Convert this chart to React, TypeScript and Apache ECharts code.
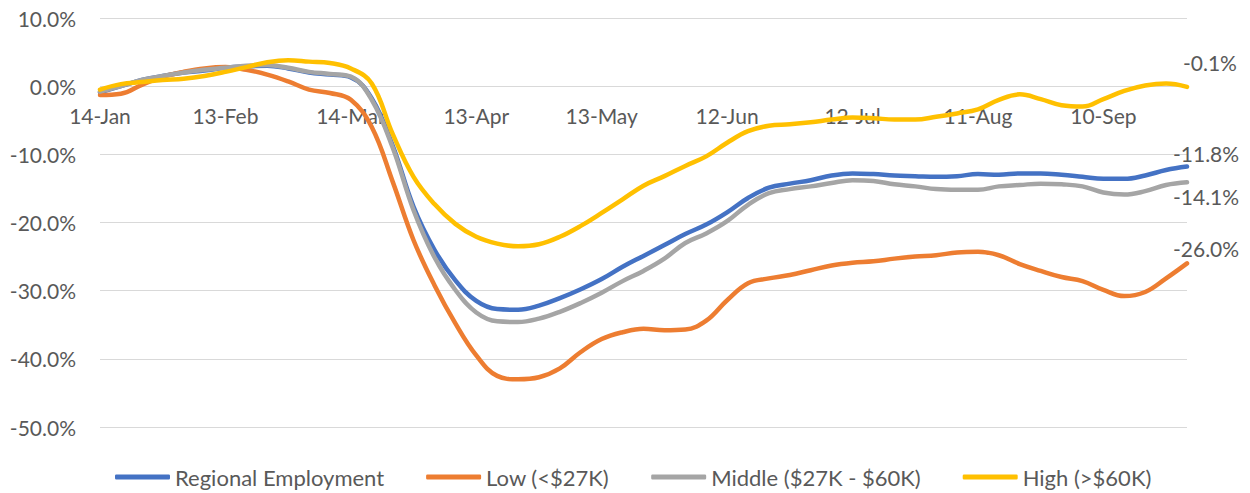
import React, { useEffect, useRef } from "react";
import * as echarts from "echarts";

// Dates sampled every 5 days, 14-Jan to 30-Sep (2020)
const categories = [
  "14-Jan", "19-Jan", "24-Jan", "29-Jan", "3-Feb", "8-Feb", "13-Feb", "18-Feb", "23-Feb", "28-Feb",
  "4-Mar", "9-Mar", "14-Mar", "19-Mar", "24-Mar", "29-Mar", "3-Apr", "8-Apr", "13-Apr", "18-Apr",
  "23-Apr", "28-Apr", "3-May", "8-May", "13-May", "18-May", "23-May", "28-May", "2-Jun", "7-Jun",
  "12-Jun", "17-Jun", "22-Jun", "27-Jun", "2-Jul", "7-Jul", "12-Jul", "17-Jul", "22-Jul", "27-Jul",
  "1-Aug", "6-Aug", "11-Aug", "16-Aug", "21-Aug", "26-Aug", "31-Aug", "5-Sep", "10-Sep", "15-Sep",
  "20-Sep", "25-Sep", "30-Sep",
];

const seriesNames = ["Regional Employment", "Low (<$27K)", "Middle ($27K - $60K)", "High (>$60K)"];

const regional = [
  -0.9, 0.0, 0.9, 1.5, 2.0, 2.3, 2.7, 2.9, 3.0, 2.6,
  2.0, 1.7, 1.3, -1.8, -8.7, -17.7, -24.0, -28.5, -31.5, -32.7,
  -32.8, -32.2, -31.1, -29.8, -28.3, -26.5, -24.9, -23.3, -21.7, -20.3,
  -18.5, -16.4, -14.9, -14.3, -13.8, -13.1, -12.8, -12.9, -13.1, -13.2,
  -13.3, -13.2, -12.9, -13.0, -12.8, -12.8, -13.0, -13.3, -13.6, -13.6,
  -13.1, -12.3, -11.8,
];
const low = [
  -1.3, -1.1, 0.2, 1.4, 2.1, 2.6, 2.8, 2.4, 1.7, 0.7,
  -0.5, -1.0, -2.0, -6.0, -14.0, -22.6, -29.2, -34.8, -39.5, -42.5,
  -43.0, -42.7, -41.4, -39.0, -37.1, -36.1, -35.6, -35.8, -35.7, -34.4,
  -31.4, -28.9, -28.2, -27.7, -27.0, -26.3, -25.9, -25.7, -25.3, -25.0,
  -24.8, -24.4, -24.3, -24.8, -26.1, -27.1, -28.0, -28.6, -29.9, -30.8,
  -30.2, -28.2, -26.0,
];
const middle = [
  -0.8, 0.0, 0.9, 1.5, 2.0, 2.4, 2.7, 3.0, 3.1, 2.7,
  2.1, 1.8, 1.4, -2.0, -9.0, -18.2, -25.1, -29.9, -33.2, -34.5,
  -34.6, -34.1, -33.1, -31.8, -30.3, -28.6, -27.1, -25.3, -23.0, -21.6,
  -19.8, -17.4, -15.7, -15.1, -14.7, -14.2, -13.8, -13.9, -14.4, -14.7,
  -15.1, -15.2, -15.2, -14.7, -14.5, -14.3, -14.4, -14.7, -15.6, -15.9,
  -15.4, -14.5, -14.1,
];
const high = [
  -0.5, 0.3, 0.6, 0.9, 1.1, 1.5, 2.1, 2.8, 3.5, 3.8,
  3.6, 3.4, 2.6, 0.4, -7.0, -13.3, -17.3, -20.2, -22.1, -23.1,
  -23.5, -23.2, -22.1, -20.5, -18.6, -16.6, -14.6, -13.2, -11.7, -10.3,
  -8.3, -6.6, -5.8, -5.6, -5.3, -4.9, -4.6, -4.7, -4.9, -4.9,
  -4.5, -4.0, -3.4, -2.0, -1.2, -1.9, -2.8, -3.0, -1.9, -0.7,
  0.1, 0.4, -0.1,
];

const colors = ["#4472C4", "#ED7D31", "#A5A5A5", "#FFC000"];
const endOffsets: [number, number][] = [
  [-14, -13],
  [-14, -15],
  [-14, 14],
  [-4, -24],
];

const FONT = "Lato, 'Open Sans', sans-serif";
const TEXT = "#595959";

export default function App() {
  const ref = useRef<HTMLDivElement>(null);
  useEffect(() => {
    if (!ref.current) return;
    const chart = echarts.init(ref.current, undefined, { renderer: "svg" });
    const allData = [regional, low, middle, high];
    chart.setOption({
      animation: false,
      color: colors,
      textStyle: { fontFamily: FONT },
      grid: { left: 100, right: 63, top: 18, bottom: 66, containLabel: false },
      legend: {
        data: seriesNames,
        left: 110,
        top: 461,
        icon: "roundRect",
        itemWidth: 55,
        itemHeight: 5,
        itemGap: 42,
        textStyle: { fontFamily: FONT, fontSize: 22, color: TEXT },
      },
      xAxis: {
        type: "category",
        data: categories,
        boundaryGap: false,
        offset: -341,
        axisLine: { show: false, onZero: false },
        axisTick: { show: false },
        axisLabel: {
          interval: 5,
          margin: 19,
          fontFamily: FONT,
          fontSize: 21,
          color: TEXT,
        },
        splitLine: { show: false },
      },
      yAxis: {
        type: "value",
        min: -50,
        max: 10,
        interval: 10,
        axisLine: { show: false },
        axisTick: { show: false },
        axisLabel: {
          margin: 24,
          fontFamily: FONT,
          fontSize: 21,
          color: TEXT,
          formatter: (v: number) => v.toFixed(1) + "%",
        },
        splitLine: { lineStyle: { color: "#D9D9D9", width: 1 } },
      },
      series: seriesNames.map((name, k) => ({
        name,
        type: "line",
        data: allData[k],
        smooth: 0.4,
        showSymbol: false,
        symbol: "none",
        lineStyle: { width: 4.5, color: colors[k], cap: "round" },
        endLabel: {
          show: true,
          distance: 0,
          offset: endOffsets[k],
          fontFamily: FONT,
          fontSize: 21,
          color: TEXT,
          formatter: (p: any) => Number(p.value).toFixed(1) + "%",
        },
      })),
    });
    return () => chart.dispose();
  }, []);
  return (
    <div
      ref={ref}
      style={{ position: "absolute", left: 0, top: 0, width: 1250, height: 493 }}
    />
  );
}
